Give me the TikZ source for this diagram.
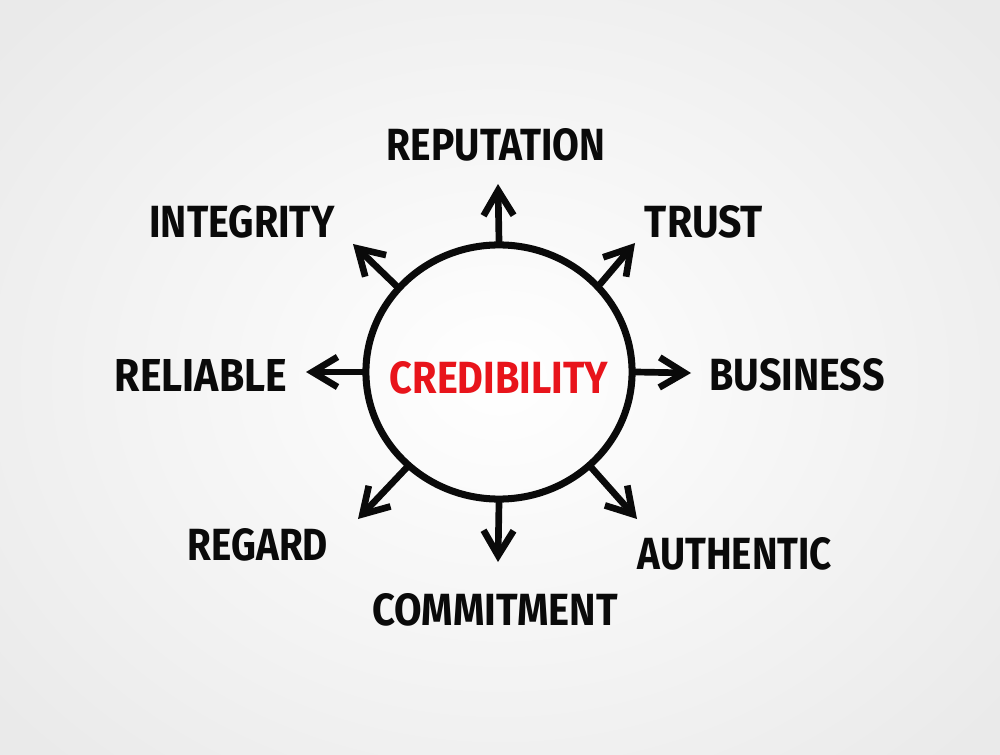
\documentclass[tikz,border=0pt]{standalone}
\usepackage{fontspec}
\setmainfont{Fira Sans}
\usepackage{graphicx}
\usetikzlibrary{arrows.meta, shapes.geometric}
\definecolor{credred}{RGB}{232,20,27}
\definecolor{inkblack}{RGB}{10,10,10}
\definecolor{bgedge}{RGB}{234,234,234}
\newcommand{\handword}[2]{\resizebox{#1}{3.2mm}{\bfseries #2}}
\tikzset{
  hub/.style={ellipse, draw=inkblack, line width=2pt, minimum width=26.6mm,
    minimum height=25.4mm, inner sep=0pt},
  word/.style={inner sep=0pt, text=inkblack},
  hubword/.style={inner sep=0pt, text=credred},
  arrow/.style={-{Straight Barb[length=2.5mm, width=3mm]}, line width=1.9pt,
    inkblack, line cap=round, line join=round}
}

\begin{document}
\begin{tikzpicture}[x=0.01cm, y=-0.01cm]
  \useasboundingbox (0,0) rectangle (1000,755);
  \shade[inner color=white, outer color=bgedge] (-150,-150) rectangle (1150,905);

  % centre
  \node[hub] (cred) at (499,372) {};
  \node[hubword] (credword) at (499,378) {\handword{21.8mm}{CREDIBILITY}};

  % words around
  \node[word] (reputation) at (496,145) {\handword{21.8mm}{REPUTATION}};
  \node[word] (trust) at (704,222) {\handword{11.8mm}{TRUST}};
  \node[word] (business) at (797,375) {\handword{17.5mm}{BUSINESS}};
  \node[word] (authentic) at (735,554) {\handword{19.4mm}{AUTHENTIC}};
  \node[word] (commitment) at (495,610) {\handword{24.5mm}{COMMITMENT}};
  \node[word] (regard) at (258,545) {\handword{14mm}{REGARD}};
  \node[word] (reliable) at (201,375) {\handword{17.2mm}{RELIABLE}};
  \node[word] (integrity) at (242,222) {\handword{18.5mm}{INTEGRITY}};

  % arrow tips
  \coordinate (tipRep) at (498,184);
  \coordinate (tipTru) at (635,243);
  \coordinate (tipBus) at (691,373);
  \coordinate (tipAut) at (637,519);
  \coordinate (tipCom) at (498,562);
  \coordinate (tipReg) at (358,519);
  \coordinate (tipRel) at (306,372);
  \coordinate (tipInt) at (353,244);

  \draw[arrow] (cred.90) -- (tipRep);
  \draw[arrow] (cred.41) -- (tipTru);
  \draw[arrow] (cred.0) -- (tipBus);
  \draw[arrow] (cred.-46) -- (tipAut);
  \draw[arrow] (cred.-90) -- (tipCom);
  \draw[arrow] (cred.-134) -- (tipReg);
  \draw[arrow] (cred.180) -- (tipRel);
  \draw[arrow] (cred.140) -- (tipInt);
\end{tikzpicture}
\end{document}
